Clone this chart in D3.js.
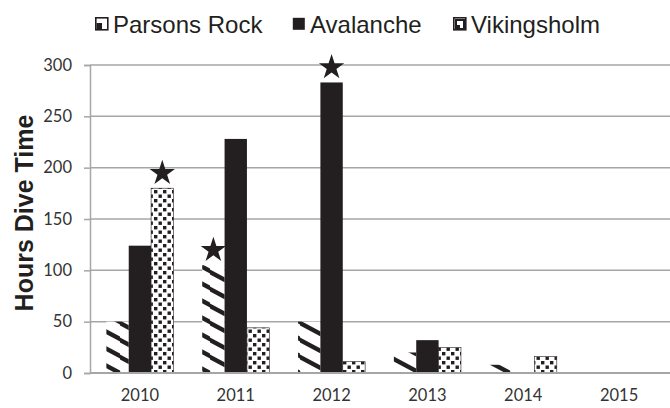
<!DOCTYPE html>
<html>
<head>
<meta charset="utf-8">
<script src="https://cdn.jsdelivr.net/npm/d3@7"></script>
<style>
  body { margin: 0; background: #fff; }
  svg { display: block; }
</style>
</head>
<body>
<script>
// chart data
let years = ["2010", "2011", "2012", "2013", "2014", "2015"];
let sites = ["Parsons Rock", "Avalanche", "Vikingsholm"];
let parsonsRock = [50, 105, 50, 20, 8, 0];
let avalanche = [124, 228, 283, 32, 0, 0];
let vikingsholm = [180, 44, 11, 25, 16, 0];
let yTicks = [0, 50, 100, 150, 200, 250, 300];
// stars mark the best site of each year that has one
let starred = [["2010", "Vikingsholm"], ["2011", "Parsons Rock"], ["2012", "Avalanche"]];

let series = { "Parsons Rock": parsonsRock, "Avalanche": avalanche, "Vikingsholm": vikingsholm };
let rows = [];
years.forEach((yr, i) => sites.forEach(s => rows.push({ year: yr, site: s, value: series[s][i] })));

let ink = "#231f20";
let width = 670, height = 408;
let margin = { top: 65, right: 3, bottom: 35, left: 90 };

let svg = d3.select("body").append("svg")
    .attr("width", width)
    .attr("height", height);

// fill patterns
let defs = svg.append("defs");
let stripes = defs.append("pattern")
    .attr("id", "stripes")
    .attr("patternUnits", "userSpaceOnUse")
    .attr("width", 30).attr("height", 17);
stripes.append("rect").attr("width", 30).attr("height", 17).attr("fill", "#fff");
[-17, 0, 17].forEach(dy => {
  stripes.append("path")
      .attr("d", `M-2,${dy - 1} L32,${dy + 17}`)
      .attr("stroke", ink)
      .attr("stroke-width", 4.5);
});

let checks = defs.append("pattern")
    .attr("id", "checks")
    .attr("patternUnits", "userSpaceOnUse")
    .attr("width", 9).attr("height", 9);
checks.append("rect").attr("width", 9).attr("height", 9).attr("fill", "#fff");
checks.append("rect").attr("x", 1).attr("y", 1).attr("width", 3.4).attr("height", 3.4).attr("fill", ink);
checks.append("rect").attr("x", 5.5).attr("y", 5.5).attr("width", 3.4).attr("height", 3.4).attr("fill", ink);

let fills = { "Parsons Rock": "url(#stripes)", "Avalanche": ink, "Vikingsholm": "url(#checks)" };

let x0 = d3.scaleBand()
    .domain(years)
    .range([margin.left + 2, width - margin.right])
    .paddingInner(0.3)
    .paddingOuter(0.15);

let x1 = d3.scaleBand()
    .domain(sites)
    .range([0, x0.bandwidth()]);

let y = d3.scaleLinear()
    .domain([0, 300])
    .range([height - margin.bottom, margin.top]);

// gridlines
svg.append("g")
    .selectAll("line")
    .data(yTicks.filter(d => d > 0))
  .enter().append("line")
    .attr("x1", margin.left)
    .attr("x2", width)
    .attr("y1", d => y(d))
    .attr("y2", d => y(d))
    .attr("stroke", "#a6a6a6")
    .attr("stroke-width", 1.5);

// y axis
let yAxis = svg.append("g")
    .attr("transform", "translate(" + margin.left + ",0)")
    .call(d3.axisLeft(y).tickValues(yTicks).tickSize(6).tickPadding(12));
yAxis.select(".domain").attr("stroke", "#a6a6a6").attr("stroke-width", 1.5);
yAxis.selectAll(".tick line").attr("stroke", "#a6a6a6").attr("stroke-width", 1.5);
yAxis.selectAll("text")
    .attr("font-family", "Lato, 'Open Sans', sans-serif")
    .attr("font-size", 16.5)
    .attr("fill", "#333");

// bars
svg.append("g")
    .selectAll("rect")
    .data(rows.filter(d => d.value > 0))
  .enter().append("rect")
    .attr("x", d => x0(d.year) + x1(d.site))
    .attr("y", d => y(d.value))
    .attr("width", x1.bandwidth())
    .attr("height", d => y(0) - y(d.value))
    .attr("fill", d => fills[d.site])
    .attr("stroke", d => d.site === "Vikingsholm" ? ink : "none")
    .attr("stroke-width", 0.6);

// x axis
let xAxis = svg.append("g")
    .attr("transform", "translate(0," + y(0) + ")")
    .call(d3.axisBottom(x0).tickSize(0).tickPadding(16));
xAxis.select(".domain")
    .attr("d", `M${margin.left},0H${width}`)
    .attr("stroke", "#a6a6a6")
    .attr("stroke-width", 2);
xAxis.selectAll("text")
    .attr("font-family", "Lato, 'Open Sans', sans-serif")
    .attr("font-size", 16.5)
    .attr("fill", "#333");

// stars
let star = d3.symbol().type(d3.symbolStar).size(200);
svg.append("g")
    .selectAll("path")
    .data(starred)
  .enter().append("path")
    .attr("d", star)
    .attr("fill", ink)
    .attr("transform", d => {
      let v = series[d[1]][years.indexOf(d[0])];
      return `translate(${x0(d[0]) + x1(d[1]) + x1.bandwidth() / 2},${y(v) - 15})`;
    });

// y axis title
svg.append("text")
    .attr("transform", "translate(33,213) rotate(-90)")
    .attr("text-anchor", "middle")
    .attr("font-family", "'Liberation Sans', Arial, sans-serif")
    .attr("font-weight", "bold")
    .attr("font-size", 25)
    .attr("fill", ink)
    .text("Hours Dive Time");

// legend
let legendX = [95, 292, 453];
let legend = svg.append("g")
    .selectAll("g")
    .data(sites)
  .enter().append("g")
    .attr("transform", (d, i) => "translate(" + legendX[i] + ",0)");
legend.append("rect")
    .attr("x", 0.8).attr("y", 17.8)
    .attr("width", 12).attr("height", 12)
    .attr("fill", d => d === "Avalanche" ? ink : "#fff")
    .attr("stroke", ink)
    .attr("stroke-width", d => d === "Avalanche" ? 0 : 1.6);
legend.filter(d => d === "Parsons Rock").append("path")
    .attr("d", "M1.5,29 L1.5,23 L7,23 L7,29 Z")
    .attr("fill", ink);
legend.filter(d => d === "Vikingsholm").append("path")
    .attr("d", "M2,19 L12,19 L12,29 L2,29 Z M4,21 L4,25 L7,25 L7,28 L10,28 L10,21 Z")
    .attr("fill-rule", "evenodd")
    .attr("fill", ink);
legend.append("text")
    .attr("x", 18)
    .attr("y", 33)
    .attr("font-family", "'Liberation Sans', Arial, sans-serif")
    .attr("font-size", 24)
    .attr("fill", ink)
    .text(d => d);
</script>
</body>
</html>
